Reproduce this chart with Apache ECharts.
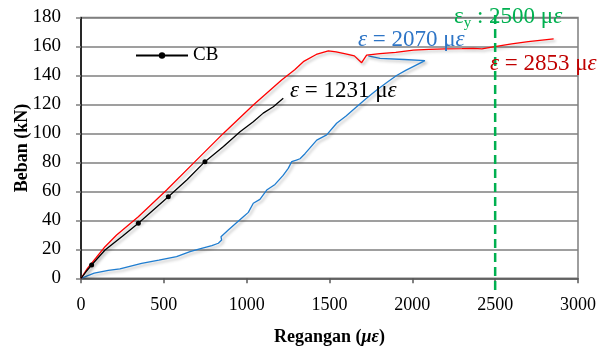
<!DOCTYPE html>
<html>
<head>
<meta charset="utf-8">
<script src="https://cdn.jsdelivr.net/npm/echarts@6/dist/echarts.min.js"></script>
<style>html,body{margin:0;padding:0;background:#fff;}#c{width:603px;height:349px;}</style>
</head>
<body>
<div id="c"></div>
<script>
// ---- data ----
const xTicks = [0, 500, 1000, 1500, 2000, 2500, 3000];
const yTicks = [0, 20, 40, 60, 80, 100, 120, 140, 160, 180];

// CB (black) strain, load; marker flags
const cbStrain = [0, 30, 64, 145, 250, 346, 440, 527, 640, 748, 860, 960, 1040, 1100, 1161, 1221];
const cbLoad   = [0, 4.5, 9.2, 19.5, 29, 38, 47.5, 56.3, 68, 80.5, 91, 101.2, 108, 114, 118.4, 124.2];
const cbMarker = [0, 0, 1, 0, 0, 1, 0, 1, 0, 1, 0, 0, 0, 0, 0, 0];

// red strain, load
const redStrain = [0, 40, 90, 145, 215, 346, 517, 688, 859, 1040, 1211, 1290, 1342, 1420, 1493, 1540, 1604, 1650, 1694, 1724, 1805, 1900, 2006, 2100, 2200, 2300, 2368, 2420, 2489, 2600, 2700, 2853];
const redLoad   = [0, 7, 14, 21.8, 29.9, 42.5, 61, 80.5, 100, 119.6, 136.8, 144, 149.5, 154.5, 157, 156.3, 154.8, 153.5, 148.8, 154, 155, 156, 157.5, 158, 158.3, 158.5, 158.7, 158.3, 159.8, 161.8, 163.3, 165.2];

// blue strain, load
const blueStrain = [0, 80, 165, 235, 366, 470, 577, 658, 728, 790, 829, 849, 845, 889, 930, 980, 1010, 1040, 1080, 1121, 1171, 1220, 1251, 1272, 1300, 1322, 1352, 1423, 1483, 1543, 1600, 1664, 1720, 1785, 1850, 1905, 1960, 2020, 2076, 1950, 1805, 1734];
const blueLoad   = [0, 3.5, 5.5, 6.5, 10.3, 12.5, 14.9, 18.4, 20.7, 22.5, 24.2, 26.4, 28.7, 33.3, 37.5, 42.5, 45.5, 51.8, 54.5, 60.9, 64.8, 71, 75.9, 80.5, 81.5, 82.5, 86, 95.4, 99, 107, 112, 118.4, 124, 130, 135.5, 140, 143.5, 147, 150.2, 151, 151.8, 153.5];

// yield line
const yieldStrain = 2500;
const yieldLoadRange = [-8, 184];

// annotations
const labelNums = ['1231', '2070', '2853'];
const labelColors = ['#000000', '#2e75c6', '#c00000'];
const yieldColor = '#00b050';

const serif = "'Liberation Serif', 'DejaVu Serif', serif";
const shadow = { shadowColor: 'rgba(0,0,0,0.3)', shadowBlur: 3, shadowOffsetX: 2, shadowOffsetY: 2 };

const cbData = cbStrain.map((x, i) => cbMarker[i] ? [x, cbLoad[i]] : { value: [x, cbLoad[i]], symbol: 'none' });
const redData = redStrain.map((x, i) => [x, redLoad[i]]);
const blueData = blueStrain.map((x, i) => [x, blueLoad[i]]);
const yieldData = yieldLoadRange.map(v => [yieldStrain, v]);

const FS = 23;
function eqText(num) {
  return '{i|ε} = ' + num + ' μ{i|ε}';
}
function richFor(color) {
  return {
    i: { fontFamily: serif, fontStyle: 'italic', fontSize: FS, fill: color },
    s: { fontFamily: serif, fontSize: 15, fill: color, padding: [14, 0, 0, 0] }
  };
}
function annot(left, top, text, color) {
  return { type: 'text', left: left, top: top, z: 10,
    style: { text: text, fontFamily: serif, fontSize: FS, fill: color, rich: richFor(color) } };
}

const chart = echarts.init(document.getElementById('c'), null, { renderer: 'canvas' });
chart.setOption({
  animation: false,
  backgroundColor: '#ffffff',
  grid: { left: 81, right: 25, top: 17.5, bottom: 70.7, show: true, borderColor: '#7f7f7f', borderWidth: 1.5,
    containLabel: false, outerBoundsMode: 'none' },
  legend: {
    data: ['CB'], left: 130, top: 41, itemWidth: 52, itemHeight: 8, itemGap: 5,
    textStyle: { fontFamily: serif, fontSize: 19, color: '#000' }
  },
  xAxis: {
    type: 'value', min: 0, max: 3000, interval: 500,
    name: 'Regangan ({b|με})', nameLocation: 'middle', nameGap: 50, nameMoveOverlap: false,
    nameTextStyle: { fontFamily: serif, fontSize: 18, fontWeight: 'bold', color: '#000',
      rich: { b: { fontFamily: serif, fontSize: 18, fontWeight: 'bold', fontStyle: 'italic', color: '#000' } } },
    axisLine: { show: true, lineStyle: { color: '#595959', width: 1.5 } },
    axisTick: { show: true, length: 5, lineStyle: { color: '#595959', width: 1.5 } },
    axisLabel: { fontFamily: serif, fontSize: 18, color: '#000', margin: 18,
      formatter: v => xTicks.includes(v) ? String(v) : '' },
    splitLine: { show: false }
  },
  yAxis: {
    type: 'value', min: 0, max: 180, interval: 20,
    name: 'Beban (kN)', nameLocation: 'middle', nameGap: 50, nameRotate: 90, nameMoveOverlap: false,
    nameTextStyle: { fontFamily: serif, fontSize: 18, fontWeight: 'bold', color: '#000' },
    axisLine: { show: true, lineStyle: { color: '#000', width: 1.5 } },
    axisTick: { show: true, length: 5, lineStyle: { color: '#7f7f7f', width: 1.5 } },
    axisLabel: { fontFamily: serif, fontSize: 19, color: '#000', margin: 20,
      formatter: v => yTicks.includes(v) ? String(v) : '' },
    splitLine: { show: true, lineStyle: { color: '#7f7f7f', width: 1.5 } }
  },
  series: [
    { name: 'blue', type: 'line', data: blueData, symbol: 'none',
      lineStyle: Object.assign({ color: '#1f7dd0', width: 1.3 }, shadow), z: 3 },
    { name: 'red', type: 'line', data: redData, symbol: 'none',
      lineStyle: Object.assign({ color: '#ff0000', width: 1.3 }, shadow), z: 4 },
    { name: 'CB', type: 'line', data: cbData, symbol: 'circle', symbolSize: 5,
      itemStyle: { color: '#000' },
      lineStyle: Object.assign({ color: '#000', width: 1.3 }, shadow), z: 5 },
    { name: 'yield', type: 'line', data: yieldData, symbol: 'none', clip: false,
      lineStyle: { color: '#00b050', width: 2.5, type: [9, 5] }, z: 6 }
  ],
  graphic: [
    annot(290, 79, eqText(labelNums[0]), labelColors[0]),
    annot(358, 28, eqText(labelNums[1]), labelColors[1]),
    annot(490, 52, eqText(labelNums[2]), labelColors[2]),
    annot(454, 5, 'ε{s|y} : 2500 μ{i|ε}', yieldColor)
  ]
});
</script>
</body>
</html>
